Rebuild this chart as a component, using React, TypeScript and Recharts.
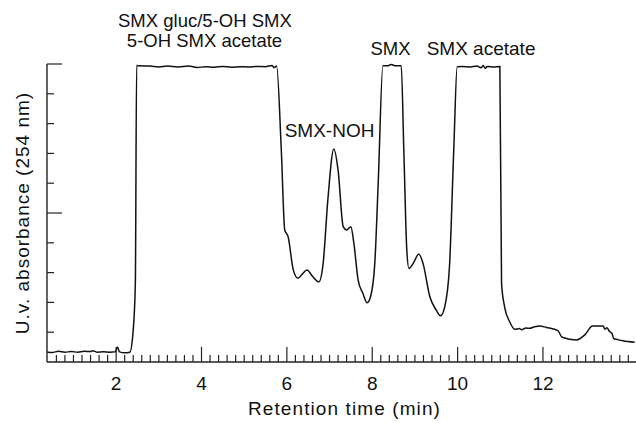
import { LineChart, Line, XAxis, YAxis, ReferenceDot } from 'recharts';

const FONT = '"Liberation Sans", Arial, sans-serif';

// retention time (min) and u.v. absorbance (arbitrary units, 0-10)
const retentionTime = [
  0.38, 0.5, 0.65, 0.8, 0.95, 1.1, 1.25, 1.4, 1.45, 1.55, 1.7, 1.85, 1.98, 2.03, 2.08, 2.2, 2.32, 2.4, 2.45,
  2.48, 2.55, 2.8, 3.0, 3.2, 3.45, 3.7, 3.9, 4.1, 4.3, 4.5, 4.7, 4.9, 5.1, 5.3, 5.5, 5.65, 5.7, 5.76,
  5.87, 5.95, 6.03, 6.15, 6.26, 6.36, 6.47, 6.6, 6.75, 6.85, 6.96, 7.1, 7.2, 7.32, 7.4, 7.5, 7.57, 7.67,
  7.78, 7.88, 7.96, 8.06, 8.14, 8.25, 8.35, 8.45, 8.55, 8.68, 8.74, 8.81, 8.86, 8.96, 9.09, 9.19, 9.35,
  9.5, 9.6, 9.7, 9.81, 9.91, 9.99, 10.1, 10.3, 10.45, 10.55, 10.6, 10.65, 10.7, 10.85, 10.99, 11.03, 11.1,
  11.22, 11.34, 11.45, 11.5, 11.6, 11.69, 11.8, 11.92, 12.08, 12.35, 12.45, 12.78, 12.98, 13.16, 13.41,
  13.45, 13.5, 13.56, 13.62, 13.66, 13.72, 13.87, 14.15,
];
const absorbance = [
  0.34, 0.32, 0.36, 0.33, 0.35, 0.33, 0.36, 0.35, 0.38, 0.33, 0.34, 0.33, 0.34, 0.5, 0.34, 0.31, 0.33, 1.07, 2.64,
  9.95, 9.94, 9.93, 9.9, 9.93, 9.9, 9.93, 9.88, 9.91, 9.89, 9.92, 9.89, 9.91, 9.9, 9.92, 9.91, 9.95, 9.88, 9.93,
  7.1, 4.43, 4.2, 3.09, 2.81, 2.95, 3.09, 2.88, 2.69, 3.31, 5.44, 7.15, 6.44, 4.54, 4.43, 4.54, 3.98, 2.75,
  2.31, 1.99, 2.19, 3.31, 6.0, 9.94, 9.94, 9.98, 9.94, 9.94, 7.11, 3.76, 3.14, 3.31, 3.62, 3.31, 2.19,
  1.74, 1.55, 1.86, 3.2, 7.11, 9.91, 9.92, 9.9, 9.93, 9.87, 9.95, 9.86, 9.92, 9.9, 9.92, 2.64, 1.86,
  1.35, 1.1, 1.12, 1.08, 1.14, 1.13, 1.18, 1.21, 1.16, 1.05, 0.83, 0.74, 0.91, 1.21, 1.21,
  1.1, 1.15, 1.02, 0.95, 0.78, 0.76, 0.71, 0.66,
];

const labelledTicks = [2, 4, 6, 8, 10, 12];
const yTicks = [0, 1, 2, 3, 4, 5, 6, 7, 8, 9, 10];

// minor ticks every 0.2 min
const xTicks: number[] = [];
for (let i = 3; i <= 70; i++) xTicks.push(Math.round(i * 2) / 10);

const data = retentionTime.map((t, i) => ({ t, a: absorbance[i] }));

const XTick = ({ x, y, payload }: any) => {
  const v = payload.value;
  const major = labelledTicks.some((m) => Math.abs(m - v) < 1e-6);
  return (
    <g>
      <line x1={x} x2={x} y1={y} y2={y - (major ? 15 : 7)} stroke="#222" strokeWidth={1.2} />
      {major && (
        <text x={x} y={y + 28} textAnchor="middle" fontSize={19} fontFamily={FONT} fill="#111">
          {v}
        </text>
      )}
    </g>
  );
};

const YTick = ({ x, y, payload }: any) => {
  const v = payload.value;
  if (v === 0) return <g />;
  const major = v === 5 || v === 10;
  return <line x1={x} x2={x + (major ? 15 : 7)} y1={y} y2={y} stroke="#222" strokeWidth={1.2} />;
};

const annotate = (value: string, size = 18.5) => ({
  value,
  position: 'center' as const,
  fontSize: size,
  fontFamily: FONT,
  fill: '#111',
});

export default function App() {
  return (
    <div style={{ position: 'absolute', left: 0, top: 0, background: '#fff' }}>
      <LineChart
        width={636}
        height={423}
        data={data}
        margin={{ top: 64, right: 0, bottom: 0, left: 0 }}
        style={{ fontFamily: FONT }}
      >
        <XAxis
          type="number"
          dataKey="t"
          domain={[0.38, 14.18]}
          ticks={xTicks}
          interval={0}
          allowDataOverflow
          height={61}
          tickSize={0}
          tickMargin={0}
          tickLine={false}
          tick={<XTick />}
          axisLine={{ stroke: '#222', strokeWidth: 1.4 }}
          label={{
            content: ({ viewBox }: any) => (
              <text
                x={viewBox.x + viewBox.width / 2 + 3}
                y={viewBox.y + 53}
                textAnchor="middle"
                fontSize={19}
                fontFamily={FONT}
                fill="#111"
                style={{ letterSpacing: '1.1px' }}
              >
                Retention time (min)
              </text>
            ),
          }}
        />
        <YAxis
          type="number"
          domain={[0, 10]}
          ticks={yTicks}
          interval={0}
          width={47}
          tickSize={0}
          tickMargin={0}
          tickLine={false}
          tick={<YTick />}
          axisLine={{ stroke: '#222', strokeWidth: 1.4 }}
          label={{
            content: ({ viewBox }: any) => {
              const cx = viewBox.x + 29;
              const cy = viewBox.y + viewBox.height / 2;
              return (
                <text
                  x={cx}
                  y={cy}
                  transform={`rotate(-90, ${cx}, ${cy})`}
                  textAnchor="middle"
                  fontSize={19}
                  fontFamily={FONT}
                  fill="#111"
                  style={{ letterSpacing: '1px' }}
                >
                  U.v. absorbance (254 nm)
                </text>
              );
            },
          }}
        />
        <ReferenceDot x={4.08} y={11.45} r={0} fill="none" stroke="none" ifOverflow="visible" label={annotate('SMX gluc/5-OH SMX')} />
        <ReferenceDot x={4.07} y={10.78} r={0} fill="none" stroke="none" ifOverflow="visible" label={annotate('5-OH SMX acetate')} />
        <ReferenceDot x={7.0} y={7.79} r={0} fill="none" stroke="none" ifOverflow="visible" label={annotate('SMX-NOH', 19)} />
        <ReferenceDot x={8.43} y={10.53} r={0} fill="none" stroke="none" ifOverflow="visible" label={annotate('SMX')} />
        <ReferenceDot x={10.55} y={10.53} r={0} fill="none" stroke="none" ifOverflow="visible" label={annotate('SMX acetate', 19)} />
        <Line
          type="monotone"
          dataKey="a"
          stroke="#111"
          strokeWidth={1.5}
          dot={false}
          activeDot={false}
          isAnimationActive={false}
        />
      </LineChart>
    </div>
  );
}
